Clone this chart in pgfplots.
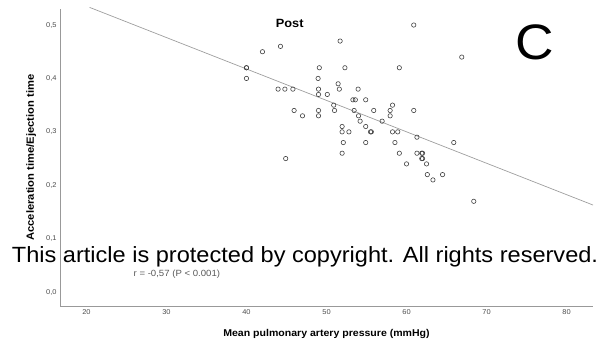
\documentclass[border=0pt]{standalone}
\usepackage{pgfplots}
\pgfplotsset{compat=1.18}
\usepackage{fontspec}
\setmainfont[FakeStretch=1.07]{Liberation Sans}
\pgfplotstableread{
x y
40.0 0.42
40.0 0.42
40.0 0.40
42.0 0.45
44.25 0.46
51.7 0.47
43.95 0.38
44.8 0.38
45.8 0.38
49.1 0.42
52.3 0.42
48.95 0.40
51.45 0.39
51.6 0.38
49.0 0.38
49.0 0.37
50.1 0.37
53.95 0.38
53.3 0.36
53.6 0.36
54.9 0.36
50.9 0.35
51.0 0.34
45.95 0.34
47.0 0.33
49.0 0.34
49.0 0.33
53.45 0.34
54.0 0.33
54.2 0.32
55.9 0.34
51.95 0.31
51.95 0.30
52.8 0.30
54.9 0.31
55.5 0.30
55.6 0.30
52.1 0.28
54.9 0.28
51.95 0.26
44.9 0.25
60.9 0.50
66.9 0.44
59.1 0.42
58.25 0.35
57.95 0.34
57.95 0.33
60.9 0.34
56.95 0.32
58.25 0.30
58.9 0.30
58.55 0.28
61.3 0.29
65.9 0.28
59.1 0.26
61.3 0.26
61.9 0.26
62.0 0.26
61.9 0.25
62.0 0.25
60.0 0.24
62.5 0.24
62.6 0.22
64.5 0.22
63.3 0.21
68.4 0.17
}\posttable
\begin{document}
\begin{tikzpicture}[x=1bp,y=1bp]
\begin{axis}[
  at={(60bp,35bp)}, anchor=south west, scale only axis,
  width=533bp, height=297bp,
  xmin=16.7, xmax=83.3, ymin=-0.026, ymax=0.53,
  axis x line=bottom, axis y line=left,
  axis line style={draw=black!40, -, line width=0.8pt},
  xtick={20,30,...,80}, ytick={0,0.1,0.2,0.3,0.4,0.5},
  major tick length=0pt,
  tick label style={font=\fontsize{7}{8}\selectfont, text=black!70},
  /pgf/number format/assume math mode=true,
  yticklabel style={/pgf/number format/.cd, fixed, fixed zerofill, precision=1, use comma},
  xlabel={Mean pulmonary artery pressure (mmHg)},
  ylabel={Acceleration time/Ejection time},
  xlabel style={at={(axis description cs:0.5,-0.094)}, anchor=center, font=\bfseries\fontsize{9.9}{11}\selectfont},
  ylabel style={at={(axis description cs:-0.054,0.5)}, anchor=center, font=\bfseries\fontsize{10.5}{12}\selectfont},
  clip=false,
]
\addplot[black!38, line width=0.7pt] coordinates {(20.4,0.533) (83.3,0.163)};
\addplot[only marks, mark=o, mark size=2.2pt, black!75, mark options={line width=0.6pt}] table[x=x,y=y] {\posttable};
\node[font=\bfseries\fontsize{12}{14}\selectfont] at (axis cs:45.4,0.503) {Post};
\node[font=\fontsize{50}{56}\selectfont] at (axis cs:76.0,0.468) {C};
\node[font=\fontsize{9}{10}\selectfont, text=black!65] at (axis cs:31.3,0.034) {r = -0,57 (P < 0.001)};
\end{axis}
\node[anchor=base, font=\fontsize{22.1}{26}\selectfont] at (305,78.3) {This article is protected by copyright. All rights reserved.};
\path (0,0) rectangle (605,341);
\end{tikzpicture}
\end{document}
